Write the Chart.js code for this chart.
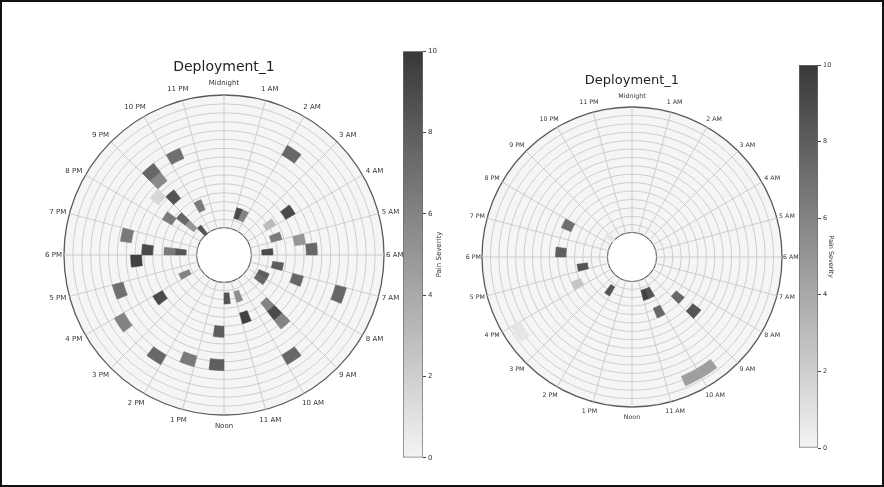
<!DOCTYPE html>
<html>
<head>
<meta charset="utf-8">
<script src="https://cdn.jsdelivr.net/npm/chart.js@4.4.1/dist/chart.umd.min.js"></script>
<style>
  html, body { margin: 0; padding: 0; background: #fff; }
  #frame { position: relative; width: 884px; height: 487px; box-sizing: border-box; border: 2px solid #111; overflow: hidden; background: #fff; }
  canvas { position: absolute; }
</style>
</head>
<body>
<div id="frame">
  <canvas id="polarLeft"></canvas>
  <canvas id="polarRight"></canvas>
  <canvas id="barLeft"></canvas>
  <canvas id="barRight"></canvas>
</div>
<script>
// ==========================================
// Data
// ==========================================
const HOUR_LABELS = ['Midnight', '1 AM', '2 AM', '3 AM', '4 AM', '5 AM', '6 AM', '7 AM', '8 AM', '9 AM', '10 AM', '11 AM',
    'Noon', '1 PM', '2 PM', '3 PM', '4 PM', '5 PM', '6 PM', '7 PM', '8 PM', '9 PM', '10 PM', '11 PM'];
const SLOT_LABELS = HOUR_LABELS.flatMap(l => [l, '']);   // half-hour slots
const N_BINS = 12;     // radial bins of the heatmap
const N_GRID = 15;     // day circles drawn by the radial axis
const CBAR_TICKS = [0, 2, 4, 6, 8, 10];
const TITLE = 'Deployment_1';
const CBAR_TITLE = 'Pain Severity';

// left panel: half-hour slot, radial bin (0 = innermost), pain
const leftSlot = [44, 42, 42, 41, 42, 44, 40, 41, 42, 41, 36, 36, 37, 36, 35, 2, 3, 4, 7, 7, 9, 10, 11, 11, 13, 15, 16, 14, 14,
    23, 21, 18, 18, 18, 21, 19, 24, 24, 26, 28, 31, 33, 31, 32];
const leftBin = [7, 7, 6, 5, 4, 2, 3, 2, 0, 1, 2, 1, 6, 4, 5, 1, 1, 8, 4, 2, 2, 4, 5, 1, 2, 1, 1, 4, 8,
    1, 1, 3, 4, 5, 3, 8, 4, 7, 7, 8, 8, 7, 4, 1];
const leftPain = [7, 7.5, 5.7, 1.5, 8.5, 6.5, 6.5, 7.5, 8.5, 5, 6.5, 8.5, 6.5, 9, 9.5, 9, 6, 7.5, 9, 3, 6.5, 5, 7.5, 9, 8, 8, 7.5, 7.5, 7.5,
    8.5, 5.5, 6, 9, 6, 9.5, 7.5, 8, 8, 6.5, 7.5, 6, 7, 9, 6];

// right panel
const rightSlot = [39, 36, 34, 32, 28, 31, 41, 21, 20, 17, 20, 17, 19, 20];
const rightBin = [4, 4, 2, 3, 1, 10, 0, 1, 1, 3, 3, 5, 10, 10];
const rightPain = [7, 8, 8.5, 2.5, 8.5, 0.8, 0.8, 9.5, 8.5, 7.5, 7.5, 8.5, 4.5, 4.5];

// ==========================================
// Helpers
// ==========================================
const FONT = '"DejaVu Sans", "Liberation Sans", sans-serif';
const EMPTY = 'rgba(0,0,0,0)';

function greyFor(v) {
    const t = Math.max(0, Math.min(1, v / 10));
    const g = Math.round(244 - t * (244 - 56));
    return `rgb(${g},${g},${g})`;
}

function place(id, left, top, w, h) {
    const c = document.getElementById(id);
    c.width = w; c.height = h;
    c.style.left = (left - 2) + 'px';
    c.style.top = (top - 2) + 'px';
    return c;
}

function buildRings(slots, bins, pains, ringPx, holePx) {
    const grid = [];
    for (let k = 0; k < N_BINS; k++) grid.push(new Array(SLOT_LABELS.length).fill(null));
    slots.forEach((s, i) => { grid[bins[i]][s] = pains[i]; });
    const datasets = [];
    for (let k = N_BINS - 1; k >= 0; k--) {   // dataset 0 is the outer ring
        const colors = grid[k].map(v => v === null ? EMPTY : greyFor(v));
        datasets.push({
            data: SLOT_LABELS.map(() => 1),
            backgroundColor: colors,
            borderColor: colors,
            borderWidth: 0.5,
            weight: ringPx
        });
    }
    // white centre hole
    datasets.push({ data: [1], backgroundColor: '#ffffff', borderWidth: 0, weight: holePx });
    return datasets;
}

const hourLabels = {
    id: 'hourLabels',
    afterDraw(chart, args, opts) {
        const scale = chart.scales.r;
        const ctx = chart.ctx;
        ctx.save();
        ctx.font = `${opts.size}px ${FONT}`;
        ctx.fillStyle = '#333';
        ctx.textAlign = 'center';
        ctx.textBaseline = 'middle';
        HOUR_LABELS.forEach((text, i) => {
            const a = scale.getIndexAngle(i * 2) - Math.PI / 2;
            const w = ctx.measureText(text).width;
            const d = scale.drawingArea + opts.pad + 6 * Math.abs(Math.sin(a));
            const x = scale.xCenter + Math.cos(a) * (d + w / 2);
            const y = scale.yCenter + Math.sin(a) * (d + opts.size / 2);
            ctx.fillText(text, x, y);
        });
        ctx.restore();
    }
};

// ==========================================
// Polar heatmaps
// ==========================================
function makePolar(id, p, slots, bins, pains) {
    const ringPx = (p.R - p.hole) / N_BINS;
    const gridPx = (p.R - p.hole) / N_GRID;
    const canvas = place(id, p.cx - p.R - p.padL, p.top, 2 * p.R + p.padL + p.padR, p.chartTop - p.top + 2 * p.R + p.padB);
    const titleLH = p.titleSize * 1.2;
    const titleTop = p.titleY - p.top - titleLH / 2;
    return new Chart(canvas, {
        type: 'doughnut',
        data: { labels: SLOT_LABELS, datasets: buildRings(slots, bins, pains, ringPx, p.hole) },
        options: {
            responsive: false,
            animation: false,
            cutout: 0,
            radius: p.R,
            events: [],
            layout: { padding: { left: p.padL, right: p.padR, top: 0, bottom: p.padB } },
            plugins: {
                legend: { display: false },
                tooltip: { enabled: false },
                title: {
                    display: true,
                    text: TITLE,
                    color: '#222',
                    font: { family: FONT, size: p.titleSize, weight: 'normal' },
                    padding: { top: titleTop, bottom: p.chartTop - p.top - titleTop - titleLH }
                },
                hourLabels: { size: p.labelSize, pad: p.labelPad }
            },
            scales: {
                r: {
                    type: 'radialLinear',
                    min: -p.hole / gridPx,
                    max: N_GRID,
                    backgroundColor: '#f5f5f5',
                    ticks: { display: false, stepSize: 1 },
                    pointLabels: { display: false },
                    grid: {
                        circular: true,
                        color: (c) => c.tick.value < -0.01 ? EMPTY
                            : (Math.abs(c.tick.value) < 0.01 || c.tick.value >= N_GRID - 0.01) ? '#5a5a5a' : '#c8c8c8',
                        lineWidth: (c) => (Math.abs(c.tick.value) < 0.01) ? 2 : (c.tick.value >= N_GRID - 0.01 ? 1.3 : 0.9)
                    },
                    angleLines: {
                        display: true,
                        color: (c) => c.index % 2 ? EMPTY : '#c8c8c8',
                        lineWidth: 0.9
                    }
                }
            }
        },
        plugins: [hourLabels]
    });
}

makePolar('polarLeft',
    { cx: 224, R: 160, hole: 26.8, top: 40, chartTop: 95, titleY: 67, titleSize: 14, labelSize: 7, labelPad: 2, padL: 40, padR: 40, padB: 40 },
    leftSlot, leftBin, leftPain);
makePolar('polarRight',
    { cx: 632, R: 150, hole: 24, top: 50, chartTop: 107, titleY: 81, titleSize: 13, labelSize: 6.3, labelPad: 1, padL: 40, padR: 30, padB: 40 },
    rightSlot, rightBin, rightPain);

// ==========================================
// Colour bars
// ==========================================
const sideTitle = {
    id: 'sideTitle',
    afterDraw(chart, args, opts) {
        if (!opts.text) return;
        const { ctx, chartArea } = chart;
        ctx.save();
        ctx.translate(opts.x, (chartArea.top + chartArea.bottom) / 2);
        ctx.rotate(-Math.PI / 2);
        ctx.font = `${opts.size}px ${FONT}`;
        ctx.fillStyle = '#333';
        ctx.textAlign = 'center';
        ctx.textBaseline = 'middle';
        ctx.fillText(opts.text, 0, 0);
        ctx.restore();
    }
};

function makeColorbar(id, b) {
    const canvas = place(id, b.left, b.top - 6, b.width + b.axisW, b.height + 12);
    return new Chart(canvas, {
        type: 'bar',
        data: {
            labels: [''],
            datasets: [{
                data: [[CBAR_TICKS[0], CBAR_TICKS[CBAR_TICKS.length - 1]]],
                backgroundColor: (c) => {
                    const y = c.chart.scales.y;
                    if (!y || !c.chart.chartArea) return '#999';
                    const g = c.chart.ctx.createLinearGradient(0, y.getPixelForValue(0), 0, y.getPixelForValue(10));
                    g.addColorStop(0, greyFor(0));
                    g.addColorStop(1, greyFor(10));
                    return g;
                },
                borderColor: '#6a6a6a',
                borderWidth: 1,
                borderSkipped: false,
                barPercentage: 1,
                categoryPercentage: 1
            }]
        },
        options: {
            responsive: false,
            animation: false,
            events: [],
            layout: { padding: { left: 0, right: 0, top: 6, bottom: 6 } },
            plugins: {
                legend: { display: false },
                tooltip: { enabled: false },
                sideTitle: b.ccwTitle ? { text: CBAR_TITLE, x: b.width + b.axisW - 4, size: b.fontSize } : {}
            },
            scales: {
                x: { display: false },
                y: {
                    position: 'right',
                    min: 0, max: 10,
                    afterBuildTicks: (s) => { s.ticks = CBAR_TICKS.map(v => ({ value: v })); },
                    ticks: { color: '#333', padding: 2, font: { family: FONT, size: b.fontSize } },
                    grid: { drawOnChartArea: false, drawTicks: true, tickLength: 3, color: '#444' },
                    border: { display: false },
                    title: { display: !b.ccwTitle, text: CBAR_TITLE, color: '#333', padding: { top: 0, bottom: 0 },
                        font: { family: FONT, size: b.fontSize } },
                    afterFit: (s) => { s.width = b.axisW; }
                }
            }
        },
        plugins: [sideTitle]
    });
}

makeColorbar('barLeft', { left: 403, top: 51, width: 20, height: 407, axisW: 20, fontSize: 7, ccwTitle: true });
makeColorbar('barRight', { left: 799, top: 65, width: 19, height: 383, axisW: 17, fontSize: 6.5, ccwTitle: false });
</script>
</body>
</html>
